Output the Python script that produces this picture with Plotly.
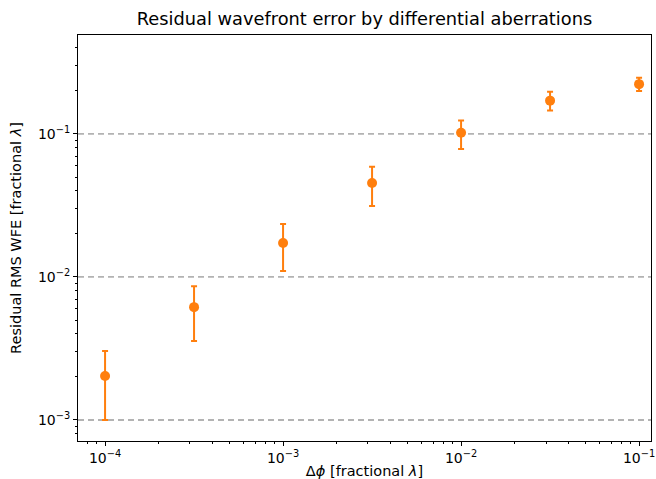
import plotly.graph_objects as go

dphi = [1e-4, 3.162e-4, 1e-3, 3.162e-3, 1e-2, 3.162e-2, 1e-1]
rms_wfe = [2.03e-3, 6.15e-3, 1.73e-2, 4.54e-2, 0.102, 0.171, 0.223]
err_plus = [1.01e-3, 2.45e-3, 0.62e-2, 1.36e-2, 0.022, 0.026, 0.024]
err_minus = [1.03e-3, 2.59e-3, 0.63e-2, 1.40e-2, 0.0234, 0.025, 0.023]
ref_levels = [1e-3, 1e-2, 1e-1]

x_major = [1e-4, 1e-3, 1e-2, 1e-1]
x_labels = ["10<sup>−4</sup>", "10<sup>−3</sup>", "10<sup>−2</sup>", "10<sup>−1</sup>"]
y_major = [1e-3, 1e-2, 1e-1]
y_labels = ["10<sup>−3</sup>", "10<sup>−2</sup>", "10<sup>−1</sup>"]

def minor_vals(lo_exp, hi_exp):
    return [m * 10.0 ** e for e in range(lo_exp, hi_exp + 1) for m in range(2, 10)]

fig = go.Figure()

for lv in ref_levels:
    fig.add_shape(type="line", xref="paper", x0=0, x1=1, yref="y", y0=lv, y1=lv,
                  line=dict(color="#b3b3b3", width=1.8, dash="6px,4px"), layer="below")

fig.add_trace(go.Scatter(
    x=dphi, y=rms_wfe, mode="markers",
    marker=dict(color="#ff7f0e", size=10),
    error_y=dict(type="data", symmetric=False, array=err_plus, arrayminus=err_minus,
                 color="#ff7f0e", thickness=2, width=3),
    showlegend=False,
))

def axis_common(minors):
    return dict(
        type="log", showgrid=False, zeroline=False, showline=True, linecolor="black",
        linewidth=1, mirror=True, ticks="outside", ticklen=4, tickcolor="black",
        automargin=False,
        tickfont=dict(family="DejaVu Sans", size=14, color="black"),
        minor=dict(ticks="outside", ticklen=2, tickcolor="black", showgrid=False,
                   tickmode="array", tickvals=minors),
    )

fig.update_xaxes(**axis_common(minor_vals(-5, -1)), range=[-4.152, -0.933],
                 tickvals=x_major, ticktext=x_labels,
                 title=dict(text="Δ<i>ϕ</i> [fractional <i>λ</i>]", standoff=8,
                            font=dict(family="DejaVu Sans", size=14.5, color="black")))
fig.update_yaxes(**axis_common(minor_vals(-4, -1)), range=[-3.147, -0.308],
                 tickvals=y_major, ticktext=y_labels,
                 title=dict(text="Residual RMS WFE [fractional <i>λ</i>]", standoff=12,
                            font=dict(family="DejaVu Sans", size=14.5, color="black")))

fig.update_layout(
    width=656, height=479,
    margin=dict(l=78, r=5, t=35, b=38),
    plot_bgcolor="white", paper_bgcolor="white",
    title=dict(text="Residual wavefront error by differential aberrations",
               x=0.5, xanchor="center", xref="paper", y=1 - 19 / 479, yanchor="middle",
               font=dict(family="DejaVu Sans", size=17.8, color="black")),
)

fig.write_html("out.html")
